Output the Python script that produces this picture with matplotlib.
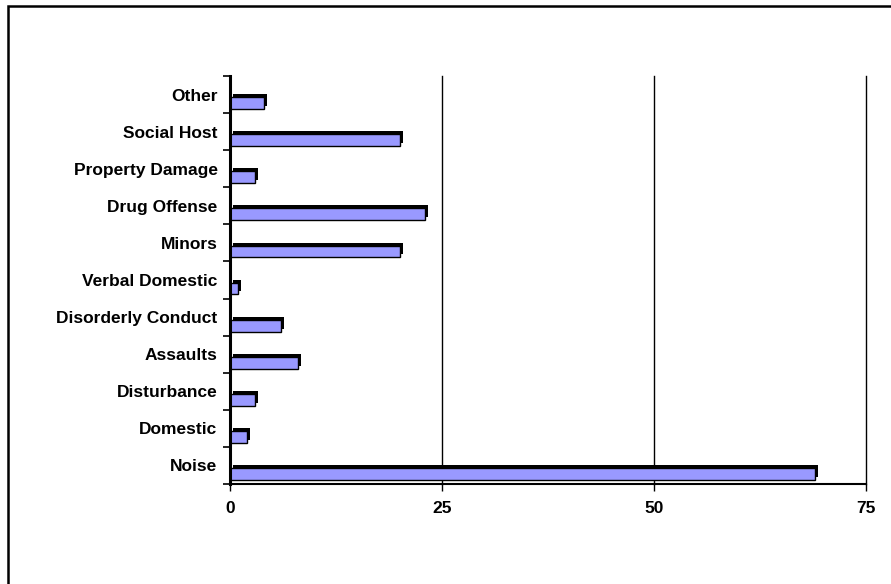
import matplotlib
matplotlib.use("Agg")
import matplotlib.pyplot as plt
from matplotlib.patches import Rectangle
import numpy as np

# Data, bottom to top
categories = ["Noise", "Domestic", "Disturbance", "Assaults", "Disorderly Conduct",
              "Verbal Domestic", "Minors", "Drug Offense", "Property Damage",
              "Social Host", "Other"]
counts = [69, 2, 3, 8, 6, 1, 20, 23, 3, 20, 4]
x_ticks = [0, 25, 50, 75]

plt.rcParams['font.family'] = ['Liberation Sans', 'DejaVu Sans']

fig = plt.figure(figsize=(8.91, 5.84), dpi=100)
ax = fig.add_axes([230 / 891, 1 - 484 / 584, 636 / 891, 408 / 584])

# outer chart border (only left/top visible in the reference)
fig.patches.append(Rectangle((8 / 891, -0.2), 1.2, 1.2 - 6 / 584, transform=fig.transFigure,
                             fill=False, edgecolor='black', lw=1.8, zorder=0))

y = np.arange(len(categories))
h = 0.32
face_y = y - 0.39 + h / 2

# 3D depth: dark shadow offset up/right, then the front face
dx, dy = 0.35, 0.08
ax.barh(face_y + dy, counts, left=dx, height=h, color='black', zorder=3)
ax.barh(face_y, counts, height=h, color='#9999FF', edgecolor='black', lw=1.0, zorder=4)

ax.set_xlim(0, 75)
ax.set_ylim(-0.5, len(categories) - 0.5)

ax.set_xticks(x_ticks)
ax.set_xticklabels([str(t) for t in x_ticks], fontsize=12.5, fontweight='bold')
ax.tick_params(axis='x', direction='out', length=5, width=1, pad=7, color='black')

ax.set_yticks(y)
ax.set_yticklabels(categories, fontsize=12.5, fontweight='bold')
ax.tick_params(axis='y', which='major', length=0, pad=9)
ax.set_yticks(np.arange(-0.5, len(categories)), minor=True)
ax.tick_params(axis='y', which='minor', direction='out', length=5, width=1.2, color='black')

for t in x_ticks[1:]:
    ax.axvline(t, color='black', lw=1, zorder=2, clip_on=False)

for side in ['top', 'right']:
    ax.spines[side].set_visible(False)
ax.spines['left'].set_linewidth(2.2)
ax.spines['bottom'].set_linewidth(1.5)
ax.spines['left'].set_zorder(5)

fig.savefig("out.png", dpi=100)
